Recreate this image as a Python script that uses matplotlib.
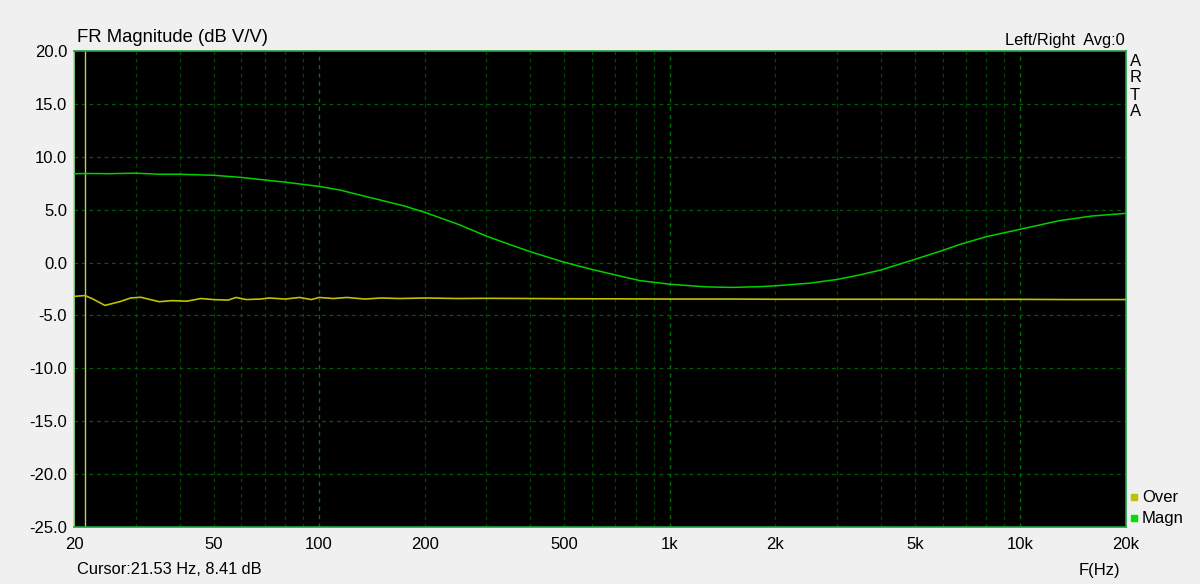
import matplotlib
matplotlib.use("Agg")
import matplotlib.pyplot as plt
from matplotlib.ticker import FixedLocator, NullFormatter

plt.rcParams['font.family'] = ['Liberation Sans', 'DejaVu Sans']

# ---------------- Data ---------------- #
magn_freq = [20, 22, 25, 30, 35, 40, 50, 60, 68, 80, 100, 115, 130, 150, 175, 200,
             250, 300, 350, 400, 450, 500, 600, 720, 820, 1000, 1270, 1500, 1800,
             2000, 2500, 3000, 3500, 4000, 5000, 6000, 6740, 8000, 10000, 12900,
             16000, 20000]
magn_db = [8.40, 8.42, 8.40, 8.45, 8.35, 8.35, 8.25, 8.05, 7.85, 7.60, 7.20, 6.85,
           6.40, 5.90, 5.35, 4.75, 3.60, 2.50, 1.70, 1.03, 0.50, 0.03, -0.65,
           -1.27, -1.70, -2.05, -2.30, -2.35, -2.28, -2.20, -1.95, -1.60, -1.15,
           -0.70, 0.30, 1.15, 1.73, 2.45, 3.15, 3.96, 4.40, 4.65]

over_freq = [20, 21.5, 22.5, 24.5, 27, 29, 31, 33, 35, 38, 42, 46, 50, 55, 58, 62,
             68, 72, 80, 88, 95, 100, 110, 120, 135, 150, 170, 200, 250, 300, 400,
             500, 700, 1000, 1500, 2000, 3000, 5000, 7000, 10000, 14000, 20000]
over_db = [-3.20, -3.12, -3.40, -4.05, -3.70, -3.35, -3.28, -3.50, -3.70, -3.60,
           -3.65, -3.40, -3.50, -3.55, -3.30, -3.50, -3.45, -3.35, -3.45, -3.30,
           -3.50, -3.30, -3.40, -3.30, -3.45, -3.35, -3.40, -3.35, -3.40, -3.38,
           -3.40, -3.42, -3.43, -3.45, -3.45, -3.47, -3.47, -3.47, -3.48, -3.48,
           -3.50, -3.50]

cursor_freq = 21.53
x_ticks = [20, 50, 100, 200, 500, 1000, 2000, 5000, 10000, 20000]
x_labels = ["20", "50", "100", "200", "500", "1k", "2k", "5k", "10k", "20k"]
y_ticks = [20, 15, 10, 5, 0, -5, -10, -15, -20, -25]

# ---------------- Figure ---------------- #
fig = plt.figure(figsize=(12, 5.84), dpi=100, facecolor="#f0f0f0")
ax = fig.add_axes([74 / 1200, 1 - 527 / 584, 1052 / 1200, 476 / 584])
ax.set_facecolor("black")
ax.set_xscale("log")
ax.set_xlim(20, 20000)
ax.set_ylim(-25, 20)

# grid: 1..9 per decade dashed, decades a bit brighter
minor = [m * 10 ** e for e in range(1, 5) for m in range(2, 10)]
minor = [f for f in minor if 20 < f < 20000]
for f in minor:
    ax.axvline(f, color="#004800", lw=0.9, ls=(0, (3, 3)), zorder=1)
for f in [100, 1000, 10000]:
    ax.axvline(f, color="#007000", lw=1.0, ls=(0, (3, 3)), zorder=1)
for y in y_ticks[1:-1]:
    ax.axhline(y, color="#005c00", lw=0.9, ls=(0, (3, 3)), zorder=1)

ax.axvline(cursor_freq, color="#c8c860", lw=1.0, zorder=2)

ax.plot(over_freq, over_db, color="#c0c000", lw=1.2, zorder=3)
ax.plot(magn_freq, magn_db, color="#00d000", lw=1.1, zorder=4)

ax.xaxis.set_major_locator(FixedLocator(x_ticks))
ax.xaxis.set_minor_locator(FixedLocator([]))
ax.xaxis.set_minor_formatter(NullFormatter())
ax.set_xticks(x_ticks)
ax.set_xticklabels(x_labels)
ax.set_yticks(y_ticks)
ax.set_yticklabels(["%.1f" % v for v in y_ticks])
ax.tick_params(axis="both", length=0, labelsize=12, colors="black", pad=7)
ax.tick_params(axis="y", pad=5)

for s in ax.spines.values():
    s.set_color("#20a040")
    s.set_linewidth(1.2)
ax.spines["left"].set_color("#90e890")

# texts
fig.text(77 / 1200, 1 - 37 / 584, "FR Magnitude (dB V/V)", fontsize=13.3,
         ha="left", va="center")
fig.text(1125 / 1200, 1 - 40 / 584, "Left/Right  Avg:0", fontsize=11.8,
         ha="right", va="center")
for i, ch in enumerate("ARTA"):
    fig.text(1130 / 1200, 1 - (61 + i * 17) / 584, ch, fontsize=12,
             ha="left", va="center")

fig.text(77 / 1200, 1 - 570 / 584, "Cursor:21.53 Hz, 8.41 dB", fontsize=11.8,
         ha="left", va="center")
fig.text(1120 / 1200, 1 - 570 / 584, "F(Hz)", fontsize=12,
         ha="right", va="center")

# legend
for i, (name, col) in enumerate([("Over", "#c0c000"), ("Magn", "#00e000")]):
    yy = 1 - (497 + i * 21) / 584
    fig.patches.append(plt.Rectangle((1131 / 1200, yy - 3 / 584), 6 / 1200, 6 / 584,
                                     transform=fig.transFigure, color=col))
    fig.text(1142 / 1200, yy, name, fontsize=12, ha="left", va="center")

fig.savefig("out.png", dpi=100, facecolor=fig.get_facecolor())
